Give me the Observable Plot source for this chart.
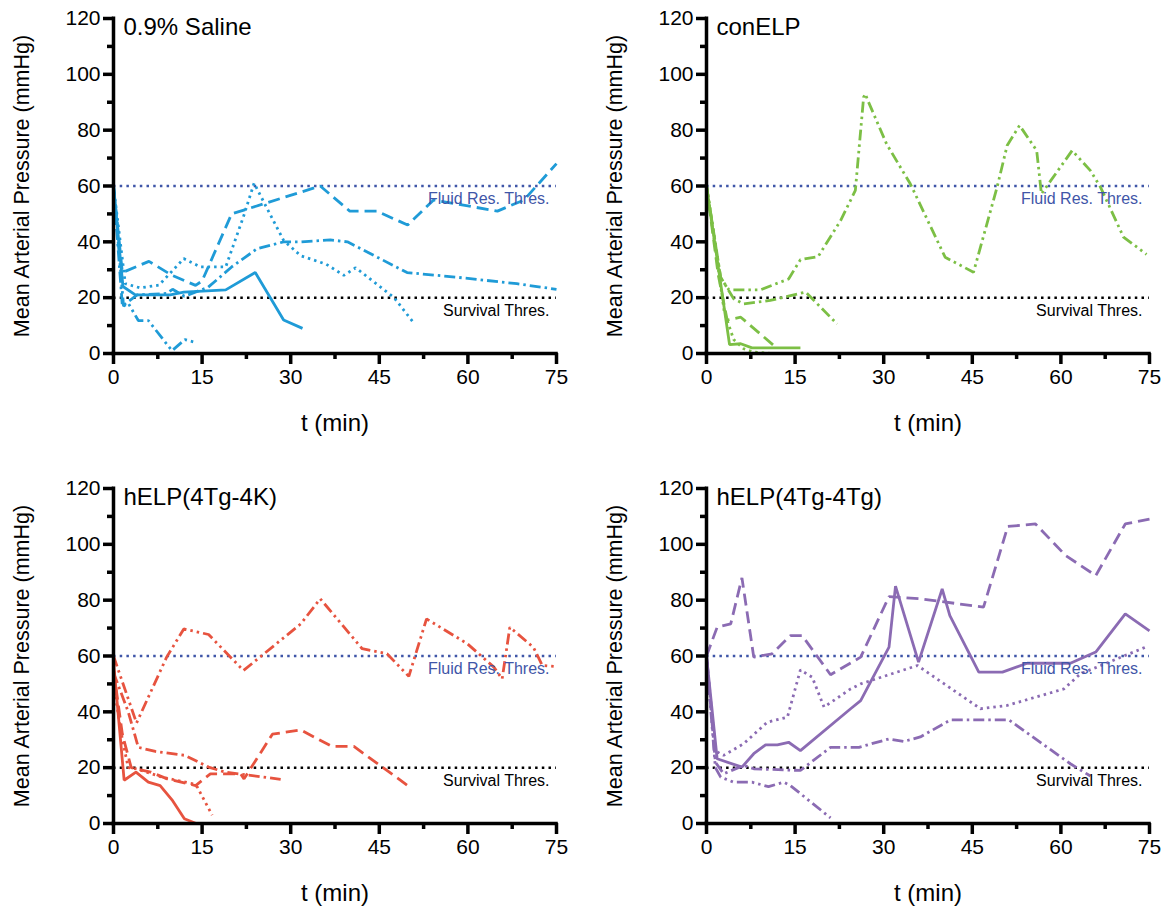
<!DOCTYPE html>
<html><head><meta charset="utf-8">
<script src="https://cdn.jsdelivr.net/npm/d3@7"></script>
<script src="https://cdn.jsdelivr.net/npm/@observablehq/plot@0.6"></script>
<style>
body{margin:0;background:#fff;}
#wrap{position:relative;width:1167px;height:906px;font-family:"Liberation Sans",Arial,Helvetica,sans-serif;}
#wrap svg{position:absolute;}
</style></head><body><div id="wrap"></div>
<script>
// ---- data: [t (min), MAP (mmHg)] ----
const panelTitles = ["0.9% Saline", "conELP", "hELP(4Tg-4K)", "hELP(4Tg-4Tg)"];
const panelColors = ["#1f9bd7", "#7cbf45", "#e7533f", "#8b6bb3"];

const salineSolid = [[0,60],[1.6,24],[3.7,21],[9.6,21],[11.9,22],[19,22.8],[24,29],[28.8,12],[32,9]];
const salineDashed = [[0,60],[1.5,29],[6,33],[9.9,28],[13.9,24.4],[15,26],[20,50],[31.7,57.8],[35,60],[40,51],[44.6,51],[49.8,46],[54.2,55],[65,51],[69.5,55],[75,68]];
const salineDotted = [[0,60],[2,25],[4.5,23.5],[7.7,24.5],[11.9,34],[14.7,31],[19,31],[22,49],[23.8,61],[28.8,40.5],[31.7,35],[36,32],[39,28],[41,30.7],[47.5,20],[51,10.5]];
const salineDashDot = [[0,60],[1.5,17],[4,21],[9,21.5],[10,23],[12,20.5],[16,23.7],[20,31],[24.3,37.5],[28.8,40],[31.7,40],[36.7,40.7],[39.6,40],[49.7,29],[58.2,27.3],[68.3,25],[75,23]];
const salineDashDotDot = [[0,60],[1.7,17],[2.5,18],[4.2,11.8],[5.9,11.8],[9.9,1],[12.1,5],[13.8,4]];

const conSolid = [[0,60],[3.9,3.2],[5.8,3.5],[7.7,2],[15.9,2]];
const conDashed = [[0,60],[2,28],[3.5,12],[5.8,13],[11.7,2.3]];
const conDotted = [[0,60],[1.5,38],[3,15],[4.6,5],[6.3,1.7],[8,0.5],[11.3,0]];
const conDashDot = [[0,60],[2.4,27.3],[4.6,19.6],[6.3,17.8],[10.8,19],[16.8,22],[22.1,10.6]];
const conDashDotDot = [[0,60],[2.4,27],[3.8,22.8],[9.1,22.8],[13.9,26.7],[15.9,33.6],[18.9,34.7],[22.7,47.6],[25.2,58.4],[26.6,91.8],[26.9,93],[27.2,91.2],[30.5,75],[34.5,60.8],[40.4,34.5],[45.2,29.1],[49.2,59.6],[50.9,74.5],[53,81.7],[55.9,72.7],[56.7,57.2],[61.9,72.7],[65,65.5],[66.7,59.6],[70.6,41.7],[74.5,35.5]];

const kSolid = [[0,58],[1.8,15.5],[3.8,18.4],[5.9,14.8],[7.9,13.6],[9.9,8.5],[12,1.7],[14,0]];
const kDashed = [[0,55],[1.5,32],[3,20],[6.3,18.4],[9.1,16],[13.9,13.6],[16.4,17.8],[21.5,17.8],[22.1,16],[26.9,32],[31.7,33.5],[37,27.6],[40.7,27.6],[49.8,13.6]];
const kDotted = [[0,50],[1.5,30],[2.5,20],[4,19.5],[8.2,16.6],[13.5,14.2],[14.2,13],[16.7,3]];
const kDashDot = [[0,54],[2.5,40],[4.2,27.3],[7.1,25.8],[12.1,24.4],[16.1,20.2],[18.9,18.4],[22.3,17.5],[28.3,15.8]];
const kDashDotDot = [[0,60],[3.9,36],[9,59.6],[11.9,69.7],[16.1,67.7],[22,54.8],[31.7,71.5],[35,80.5],[42.1,62.6],[46.3,60.8],[50,52.7],[53,73.3],[59.9,64.4],[64.4,56],[65.8,51.8],[67.1,70.3],[71.1,63.1],[72.6,56.6],[75,56.2]];

const tgSolid = [[0,60],[1.8,23.2],[6,20.2],[8,25],[10,28.2],[12,28.2],[13.9,29.1],[15.9,26.1],[24.4,41.1],[26.1,44],[30.9,63.2],[32,85],[35.9,57.8],[39.9,84],[41.2,74.5],[46.1,54.2],[50.1,54.2],[54.3,57.4],[61.6,57.4],[65.9,61.4],[70.9,75.1],[75,69]];
const tgDashed = [[0,60],[1.8,70.3],[4.1,71.5],[6,88],[8,59.6],[11.1,60.8],[14.2,67.3],[16.2,67.3],[21,53.3],[26.1,59.6],[30.9,81.3],[36.2,80.5],[46.9,77.5],[51,106.4],[55.7,107.3],[60.8,96],[65.9,88.8],[70.9,107.3],[75,109]];
const tgDotted = [[0,60],[1.5,26],[2.9,24.4],[6.3,28.6],[10.3,36.3],[13.7,38.1],[15.9,55],[17.9,52.4],[19.9,41.7],[24.4,48.2],[26.1,50],[35.7,56.6],[46.4,41.1],[50.9,42.3],[60.5,48.2],[63.3,53.6],[74.6,63.4]];
const tgDashDot = [[0,60],[1.5,22],[2.9,17.8],[6.3,20.8],[8,19.6],[15.9,19],[21,27.3],[25.8,27.3],[30.9,30.3],[33.4,29.4],[36.2,31],[41.3,37.1],[51.2,37.1],[61.6,21.4],[65,17]];
const tgDashDotDot = [[0,60],[1.5,20],[2.4,16.6],[4.6,14.8],[7.7,14.8],[10.5,13.2],[13.1,14.8],[14.2,13.6],[21,2]];

const thresholdValues = [60, 20];
const thresholdLabels = ["Fluid Res. Thres.", "Survival Thres."];
const thresholdColors = ["#3f56a8", "#000000"];

const xMajorTicks = [0, 15, 30, 45, 60, 75];
const xMinorTicks = [7.5, 22.5, 37.5, 52.5, 67.5];
const yMajorTicks = [0, 20, 40, 60, 80, 100, 120];
const yMinorTicks = [10, 30, 50, 70, 90, 110];

const panelSeries = [
  [salineSolid, salineDashed, salineDotted, salineDashDot, salineDashDotDot],
  [conSolid, conDashed, conDotted, conDashDot, conDashDotDot],
  [kSolid, kDashed, kDotted, kDashDot, kDashDotDot],
  [tgSolid, tgDashed, tgDotted, tgDashDot, tgDashDotDot]
];
const dashStyles = [null, "12,6", "2.5,4", "11,4,2.5,4", "11,4,2.5,4,2.5,4"];
const FONT = '"Liberation Sans", Arial, Helvetica, sans-serif';

function makePanel(i) {
  const color = panelColors[i];
  const thr = thresholdValues.map((v, k) => ({v, label: thresholdLabels[k], color: thresholdColors[k]}));
  const lineMarks = panelSeries[i].map((pts, k) => Plot.line(pts, {
    x: d => d[0], y: d => d[1], stroke: color, strokeWidth: 2.8,
    strokeDasharray: dashStyles[k], strokeLinejoin: "miter", strokeLinecap: "butt"
  }));
  return Plot.plot({
    width: 574, height: 436,
    marginLeft: 113, marginRight: 18, marginTop: 18, marginBottom: 83,
    style: {fontFamily: FONT, background: "transparent", overflow: "visible", color: "#000"},
    x: {domain: [0, 75]},
    y: {domain: [0, 120]},
    marks: [
      Plot.ruleY(thr, {y: "v", stroke: "color", strokeWidth: 2.5, strokeDasharray: "2.5,4.2"}),
      ...lineMarks,
      Plot.text(thr, {x: () => 75, y: "v", text: "label", fill: "color", textAnchor: "end", dx: -7, dy: 13, fontSize: 16}),
      Plot.ruleX([0], {stroke: "#000", strokeWidth: 3.5, y1: -0.5, y2: 120.5}),
      Plot.ruleY([0], {stroke: "#000", strokeWidth: 3.5, x1: -0.3, x2: 75.3}),
      Plot.axisX({ticks: xMajorTicks, tickSize: 11, tickPadding: 5, fontSize: 21, stroke: "#000", strokeWidth: 3.5, strokeOpacity: 1, label: null}),
      Plot.axisX({ticks: xMinorTicks, tickSize: 6, tickFormat: () => "", stroke: "#000", strokeWidth: 3.5, strokeOpacity: 1, label: null}),
      Plot.axisY({ticks: yMajorTicks, tickSize: 10, tickPadding: 3, fontSize: 21, stroke: "#000", strokeWidth: 3.5, strokeOpacity: 1, label: null}),
      Plot.axisY({ticks: yMinorTicks, tickSize: 6, tickFormat: () => "", stroke: "#000", strokeWidth: 3.5, strokeOpacity: 1, label: null}),
      Plot.text([panelTitles[i]], {text: d => d, frameAnchor: "top-left", dx: 10, dy: -1, lineAnchor: "top", textAnchor: "start", fontSize: 24, fill: "#000"}),
      Plot.text(["Mean Arterial Pressure (mmHg)"], {text: d => d, frameAnchor: "left", rotate: -90, dx: -91, textAnchor: "middle", lineAnchor: "middle", fontSize: 21.5, fill: "#000"}),
      Plot.text(["t (min)"], {text: d => d, frameAnchor: "bottom", dy: 70, textAnchor: "middle", lineAnchor: "middle", fontSize: 24, fill: "#000"})
    ]
  });
}

const wrap = document.getElementById("wrap");
const pos = [[0, 0], [593, 0], [0, 470], [593, 470]];
for (let i = 0; i < 4; i++) {
  const svg = makePanel(i);
  svg.style.left = pos[i][0] + "px";
  svg.style.top = pos[i][1] + "px";
  wrap.appendChild(svg);
}
</script>
</body></html>
